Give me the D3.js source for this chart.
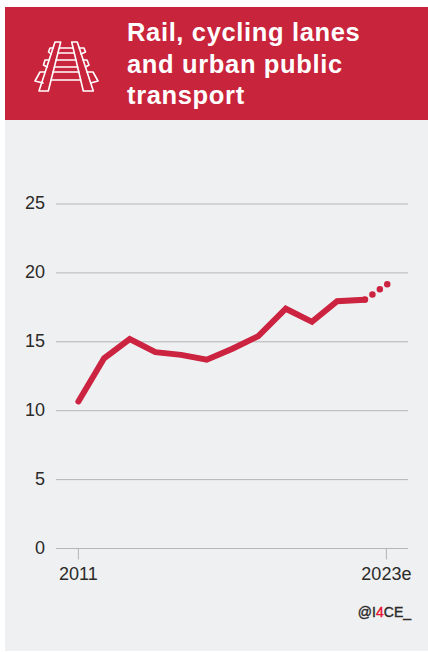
<!DOCTYPE html>
<html><head><meta charset="utf-8">
<script src="https://cdn.jsdelivr.net/npm/d3@7"></script>
<style>html,body{margin:0;padding:0;background:#fff}svg{display:block}text{font-family:"Liberation Sans",Arial,sans-serif}</style>
</head><body><svg id="c" width="428" height="652"></svg>
<script>
const titleLines = ["Rail, cycling lanes","and urban public","transport"];
const yTicks = [0,5,10,15,20,25];
const xTickYears = [2011,2023];
const xTickLabels = ["2011","2023e"];
const solidYears = [2011,2012,2013,2014,2015,2016,2017,2018,2019.08,2020.1,2021.08,2022.15];
const solidValues = [10.67,13.8,15.2,14.25,14.05,13.7,14.5,15.4,17.4,16.45,17.95,18.05];
const forecastYears = [2022.15,2023.05];
const forecastValues = [18.05,19.2];

const W=428,H=652;
const svg=d3.select("#c");
svg.append("rect").attr("x",5).attr("y",7).attr("width",W-5).attr("height",H-7-1).attr("fill","#eff0f2");
svg.append("rect").attr("x",5).attr("y",7).attr("width",W-5).attr("height",113).attr("fill","#c8243c");

svg.append("g").selectAll("text").data(titleLines).join("text")
  .attr("x",127).attr("y",(d,i)=>41+i*31.5)
  .attr("fill","#fff").attr("font-weight","bold").attr("font-size",25.5).attr("letter-spacing",0.65).text(d=>d);

// rail icon
const icon=svg.append("g").attr("fill","none").attr("stroke","#fff").attr("stroke-width",1.6).attr("stroke-linejoin","round").attr("stroke-linecap","round");
["M55,42L60.7,42L48.3,91L39,91Z","M71.7,42L77.3,42L93.3,91L83.3,91Z",
 "M53,48L50,48L48.5,52L51,54","M79.3,48L84,48L85.5,52L81,54",
 "M49,60L45,60L43.5,65L47,67","M83,60L87,60L89,65L85.5,67",
 "M45,72L40,72L35,81L43,83","M87,72L93,72L98,81L90.7,83",
 "M59.2,48L73.1,48","M58,53L74.3,53","M56.1,60L76,60","M54.4,67L77.6,67","M53.1,72L78.8,72","M51.1,80L80.6,80"]
 .forEach(d=>icon.append("path").attr("d",d));

const x=d3.scaleLinear().domain([2011,2023]).range([78.4,386.4]);
const y=d3.scaleLinear().domain([0,25]).range([548.5,204]);

const ga=svg.append("g");
ga.selectAll("line.g").data(yTicks).join("line").attr("class","g")
  .attr("x1",56).attr("x2",408).attr("y1",d=>y(d)).attr("y2",d=>y(d))
  .attr("stroke","#b4b5b5").attr("stroke-width",1);
ga.selectAll("text.y").data(yTicks).join("text").attr("class","y")
  .attr("x",45).attr("y",d=>y(d)+5).attr("text-anchor","end")
  .attr("font-size",18).attr("fill","#2b2a29").text(d=>d);
ga.selectAll("line.t").data(xTickYears).join("line").attr("class","t")
  .attr("x1",d=>x(d)).attr("x2",d=>x(d)).attr("y1",y(0)).attr("y2",y(0)+11)
  .attr("stroke","#b4b5b5").attr("stroke-width",1);
ga.selectAll("text.x").data(xTickYears).join("text").attr("class","x")
  .attr("x",d=>x(d)).attr("y",580).attr("text-anchor","middle")
  .attr("font-size",18).attr("fill","#2b2a29").text((d,i)=>xTickLabels[i]);

const line=d3.line().x(d=>x(d[0])).y(d=>y(d[1]));
svg.append("path").attr("d",line(d3.zip(solidYears,solidValues)))
  .attr("fill","none").attr("stroke","#cb2340").attr("stroke-width",6)
  .attr("stroke-linecap","round").attr("stroke-linejoin","miter");
svg.append("path").attr("d",line(d3.zip(forecastYears,forecastValues)))
  .attr("fill","none").attr("stroke","#cb2340").attr("stroke-width",6.5)
  .attr("stroke-linecap","round").attr("stroke-dasharray","0 9").attr("stroke-dashoffset",-9.5);

const credit=svg.append("text").attr("x",411).attr("y",616.5).attr("text-anchor","end")
  .attr("font-size",14).attr("fill","#2b2a29").attr("stroke","#2b2a29").attr("stroke-width",0.4);
credit.append("tspan").text("@I");
credit.append("tspan").attr("fill","#e8112d").attr("stroke","#e8112d").text("4");
credit.append("tspan").text("CE_");
</script></body></html>
